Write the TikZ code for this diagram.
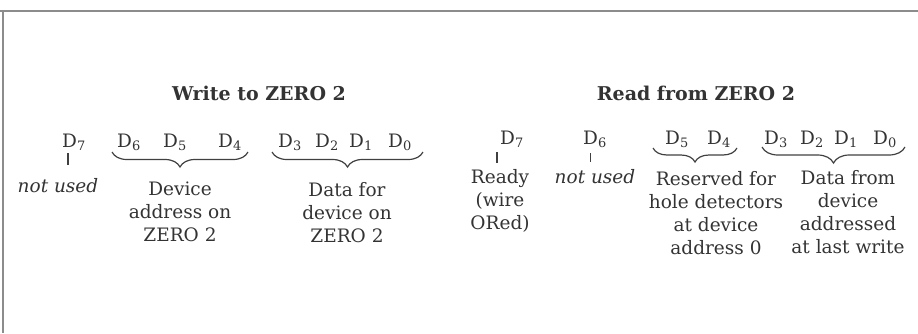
\documentclass[tikz,border=0pt]{standalone}
\usepackage{fontspec}
\setmainfont{DejaVu Serif}
\usetikzlibrary{decorations.pathreplacing}
\tikzset{
  txt/.style={inner sep=0pt, text=black!80, font=\fontsize{18.5}{23}\selectfont},
  bit/.style={txt, anchor=base},
  col/.style={txt, align=center, anchor=north},
  ttl/.style={txt, anchor=base, font=\fontsize{19}{23}\selectfont\bfseries},
  tick/.style={draw=black!75, line width=1.4pt},
  grp/.style={draw=black!75, line width=1.2pt, decorate,
    decoration={brace, mirror, amplitude=#1}},
  frame/.style={draw=black!45, line width=1.2pt}
}
\newcommand{\Dbit}[1]{D\textsubscript{#1}}
\begin{document}
\begin{tikzpicture}[x=1pt,y=-1pt]
\useasboundingbox (0,0) rectangle (918,333);
% frame
\coordinate (fa) at (0,11);
\coordinate (fb) at (918,11);
\coordinate (fc) at (3,11);
\coordinate (fd) at (3,333);
\draw[frame] (fa) -- (fb);
\draw[frame] (fc) -- (fd);
% titles
\node[ttl] (tw) at (259,100) {Write to ZERO 2};
\node[ttl] (tr) at (696,100) {Read from ZERO 2};
% write bits
\node[bit] (w7) at (74,147) {\Dbit{7}};
\node[bit] (w6) at (129,147) {\Dbit{6}};
\node[bit] (w5) at (175,147) {\Dbit{5}};
\node[bit] (w4) at (230,147) {\Dbit{4}};
\node[bit] (w3) at (290,147) {\Dbit{3}};
\node[bit] (w2) at (327,147) {\Dbit{2}};
\node[bit] (w1) at (361,147) {\Dbit{1}};
\node[bit] (w0) at (400,147) {\Dbit{0}};
% read bits
\node[bit] (r7) at (512,144) {\Dbit{7}};
\node[bit] (r6) at (595,144) {\Dbit{6}};
\node[bit] (r5) at (677,144) {\Dbit{5}};
\node[bit] (r4) at (719,144) {\Dbit{4}};
\node[bit] (r3) at (776,144) {\Dbit{3}};
\node[bit] (r2) at (812,144) {\Dbit{2}};
\node[bit] (r1) at (846,144) {\Dbit{1}};
\node[bit] (r0) at (885,144) {\Dbit{0}};
% write descriptions
\node[bit, font=\fontsize{18.5}{23}\selectfont\itshape] (wnu) at (58,192) {not used};
\node[col] (wdev) at (180,182) {Device\\address on\\ZERO 2};
\node[col] (wdat) at (347,182) {Data for\\device on\\ZERO 2};
% read descriptions
\node[col] (rrdy) at (500,169) {Ready\\(wire\\ORed)};
\node[bit, font=\fontsize{18.5}{23}\selectfont\itshape] (rnu) at (595,183) {not used};
\node[col] (rres) at (716,171) {Reserved for\\hole detectors\\at device\\address 0};
\node[col] (rdat) at (848,170) {Data from\\device\\addressed\\at last write};
% ticks
\coordinate (t1a) at (68,153); \coordinate (t1b) at (68,165);
\coordinate (t2a) at (497,152); \coordinate (t2b) at (497,163);
\coordinate (t3a) at (590,153); \coordinate (t3b) at (590,162);
\draw[tick] (t1a) -- (t1b);
\draw[tick] (t2a) -- (t2b);
\draw[tick, line width=1pt] (t3a) -- (t3b);
% braces
\coordinate (b1a) at (112,152); \coordinate (b1b) at (248,152);
\coordinate (b2a) at (272,152); \coordinate (b2b) at (423,152);
\coordinate (b3a) at (653,148); \coordinate (b3b) at (737,148);
\coordinate (b4a) at (762,147); \coordinate (b4b) at (905,147);
\draw[grp=15pt] (b1a) -- (b1b);
\draw[grp=15pt] (b2a) -- (b2b);
\draw[grp=14pt] (b3a) -- (b3b);
\draw[grp=16pt] (b4a) -- (b4b);
\end{tikzpicture}
\end{document}
